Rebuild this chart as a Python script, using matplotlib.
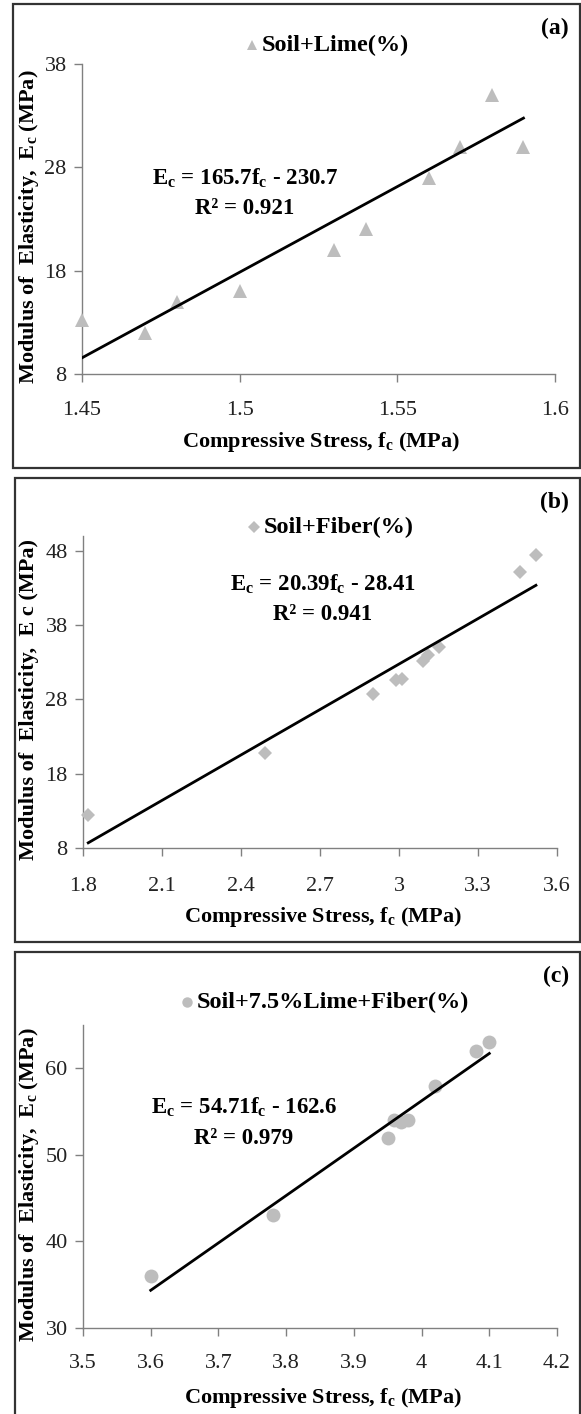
import matplotlib
matplotlib.use("Agg")
import matplotlib.pyplot as plt
from matplotlib.patches import Rectangle
import numpy as np

plt.rcParams['font.family'] = ['Liberation Serif', 'DejaVu Serif']
plt.rcParams['mathtext.fontset'] = 'custom'
plt.rcParams['mathtext.rm'] = 'Liberation Serif'
plt.rcParams['mathtext.bf'] = 'Liberation Serif:bold'
plt.rcParams['mathtext.it'] = 'Liberation Serif:italic'

# (a) soil + lime
fc_lime = [1.45, 1.47, 1.48, 1.50, 1.53, 1.54, 1.56, 1.57, 1.58, 1.59]
ec_lime = [13.2, 12.0, 15.0, 16.0, 20.0, 22.0, 27.0, 30.0, 35.0, 30.0]
fit_lime = (165.7, -230.7, 0.921)

# (b) soil + fiber
fc_fiber = [1.82, 2.49, 2.90, 2.99, 3.01, 3.09, 3.11, 3.15, 3.46, 3.52]
ec_fiber = [12.5, 20.8, 28.7, 30.6, 30.8, 33.2, 34.0, 35.0, 45.2, 47.5]
fit_fiber = (20.39, -28.41, 0.941)

# (c) soil + 7.5% lime + fiber
fc_mix = [3.60, 3.78, 3.95, 3.96, 3.97, 3.98, 4.02, 4.08, 4.10]
ec_mix = [36.0, 43.0, 52.0, 54.0, 53.8, 54.0, 58.0, 62.0, 63.0]
fit_mix = (54.71, -162.6, 0.979)

W, H = 581, 1414
fig = plt.figure(figsize=(W / 100, H / 100), dpi=100)


def fx(x):
    return x / W


def fy(y):
    return 1 - y / H


def panel(box, axbox, fc, ec, fit, marker, msize, legend, tag, xlim, xticks,
          ylim, yticks, ylabel, eq_xy, leg_xy, tick_y, xlab_y):
    # frame around the panel
    x0, y0, x1, y1 = box
    fig.patches.append(Rectangle((fx(x0), fy(y1)), fx(x1 - x0), (y1 - y0) / H,
                                 transform=fig.transFigure, fill=False,
                                 edgecolor='#333333', linewidth=1.6))
    l, t, r, b = axbox
    ax = fig.add_axes([fx(l), fy(b), fx(r - l), (b - t) / H])
    for s in ['top', 'right']:
        ax.spines[s].set_visible(False)
    for s in ['left', 'bottom']:
        ax.spines[s].set_color('#808080')
        ax.spines[s].set_linewidth(1.0)
    ax.tick_params(colors='#808080', length=6, width=1.0, labelcolor='#222222',
                   labelsize=16)
    ax.tick_params(axis='x', pad=(tick_y - b - 19) * 0.72)
    ax.tick_params(axis='y', pad=5)

    ax.plot(fc, ec, linestyle='none', marker=marker, markersize=msize,
            color='#bdbdbd', markeredgewidth=0, clip_on=False, zorder=3)
    slope, icpt, r2 = fit
    xs = np.array([min(fc), max(fc)])
    ax.plot(xs, slope * xs + icpt, color='black', linewidth=2.0, zorder=4)

    ax.set_xlim(xlim)
    ax.set_ylim(ylim)
    ax.set_xticks(xticks)
    ax.set_xticklabels([('%g' % v) for v in xticks])
    ax.set_yticks(yticks)

    fig.text(fx(29), fy((t + b) / 2 + 8), ylabel, rotation=90, ha='center',
             va='center', fontsize=16, fontweight='bold')
    fig.text(fx((l + r) / 2 + 3), fy(xlab_y),
             r'Compressive Stress, f$_\mathbf{c}$ (MPa)',
             ha='center', va='center', fontsize=16, fontweight='bold')

    ex, ey = eq_xy
    sgn = '-' if icpt < 0 else '+'
    fig.text(fx(ex), fy(ey), r'E$_\mathbf{c}$ = %gf$_\mathbf{c}$ %s %g' % (
        slope, sgn, abs(icpt)),
        ha='center', va='center', fontsize=16.5, fontweight='bold')
    fig.text(fx(ex), fy(ey + 31), 'R\u00b2 = %.3f' % r2, ha='center',
             va='center', fontsize=16.5, fontweight='bold')

    lx, ly = leg_xy
    fig.lines.append(plt.Line2D([fx(lx)], [fy(ly)], transform=fig.transFigure,
                                marker=marker, markersize=msize * 0.75,
                                color='#bdbdbd', markeredgewidth=0,
                                linestyle='none'))
    fig.text(fx(lx + 10), fy(ly), legend, ha='left', va='center',
             fontsize=17.5, fontweight='bold')
    fig.text(fx(569), fy(y0 + 24), tag, ha='right', va='center',
             fontsize=17, fontweight='bold')
    return ax


panel((13, 4, 580, 468), (82, 64, 555, 374), fc_lime, ec_lime, fit_lime,
      '^', 10, 'Soil+Lime(%)', '(a)', (1.45, 1.6), [1.45, 1.5, 1.55, 1.6],
      (8, 38), [8, 18, 28, 38], r'Modulus of  Elasticity,  E$_\mathbf{c}$ (MPa)',
      (245, 178), (252, 45), 412, 442)

panel((15, 478, 580, 942), (83, 536, 557, 848), fc_fiber, ec_fiber, fit_fiber,
      'D', 7.5, 'Soil+Fiber(%)', '(b)', (1.8, 3.6),
      [1.8, 2.1, 2.4, 2.7, 3.0, 3.3, 3.6],
      (8, 50), [8, 18, 28, 38, 48], 'Modulus of  Elasticity,  E c (MPa)',
      (323, 584), (254, 527), 888, 917)

panel((15, 952, 580, 1420), (83, 1025, 557, 1328), fc_mix, ec_mix, fit_mix,
      'o', 10, 'Soil+7.5%Lime+Fiber(%)', '(c)', (3.5, 4.2),
      [3.5, 3.6, 3.7, 3.8, 3.9, 4.0, 4.1, 4.2],
      (30, 65), [30, 40, 50, 60], r'Modulus of  Elasticity,  E$_\mathbf{c}$ (MPa)',
      (244, 1107), (187, 1002), 1365, 1398)

fig.savefig('out.png', dpi=100)
